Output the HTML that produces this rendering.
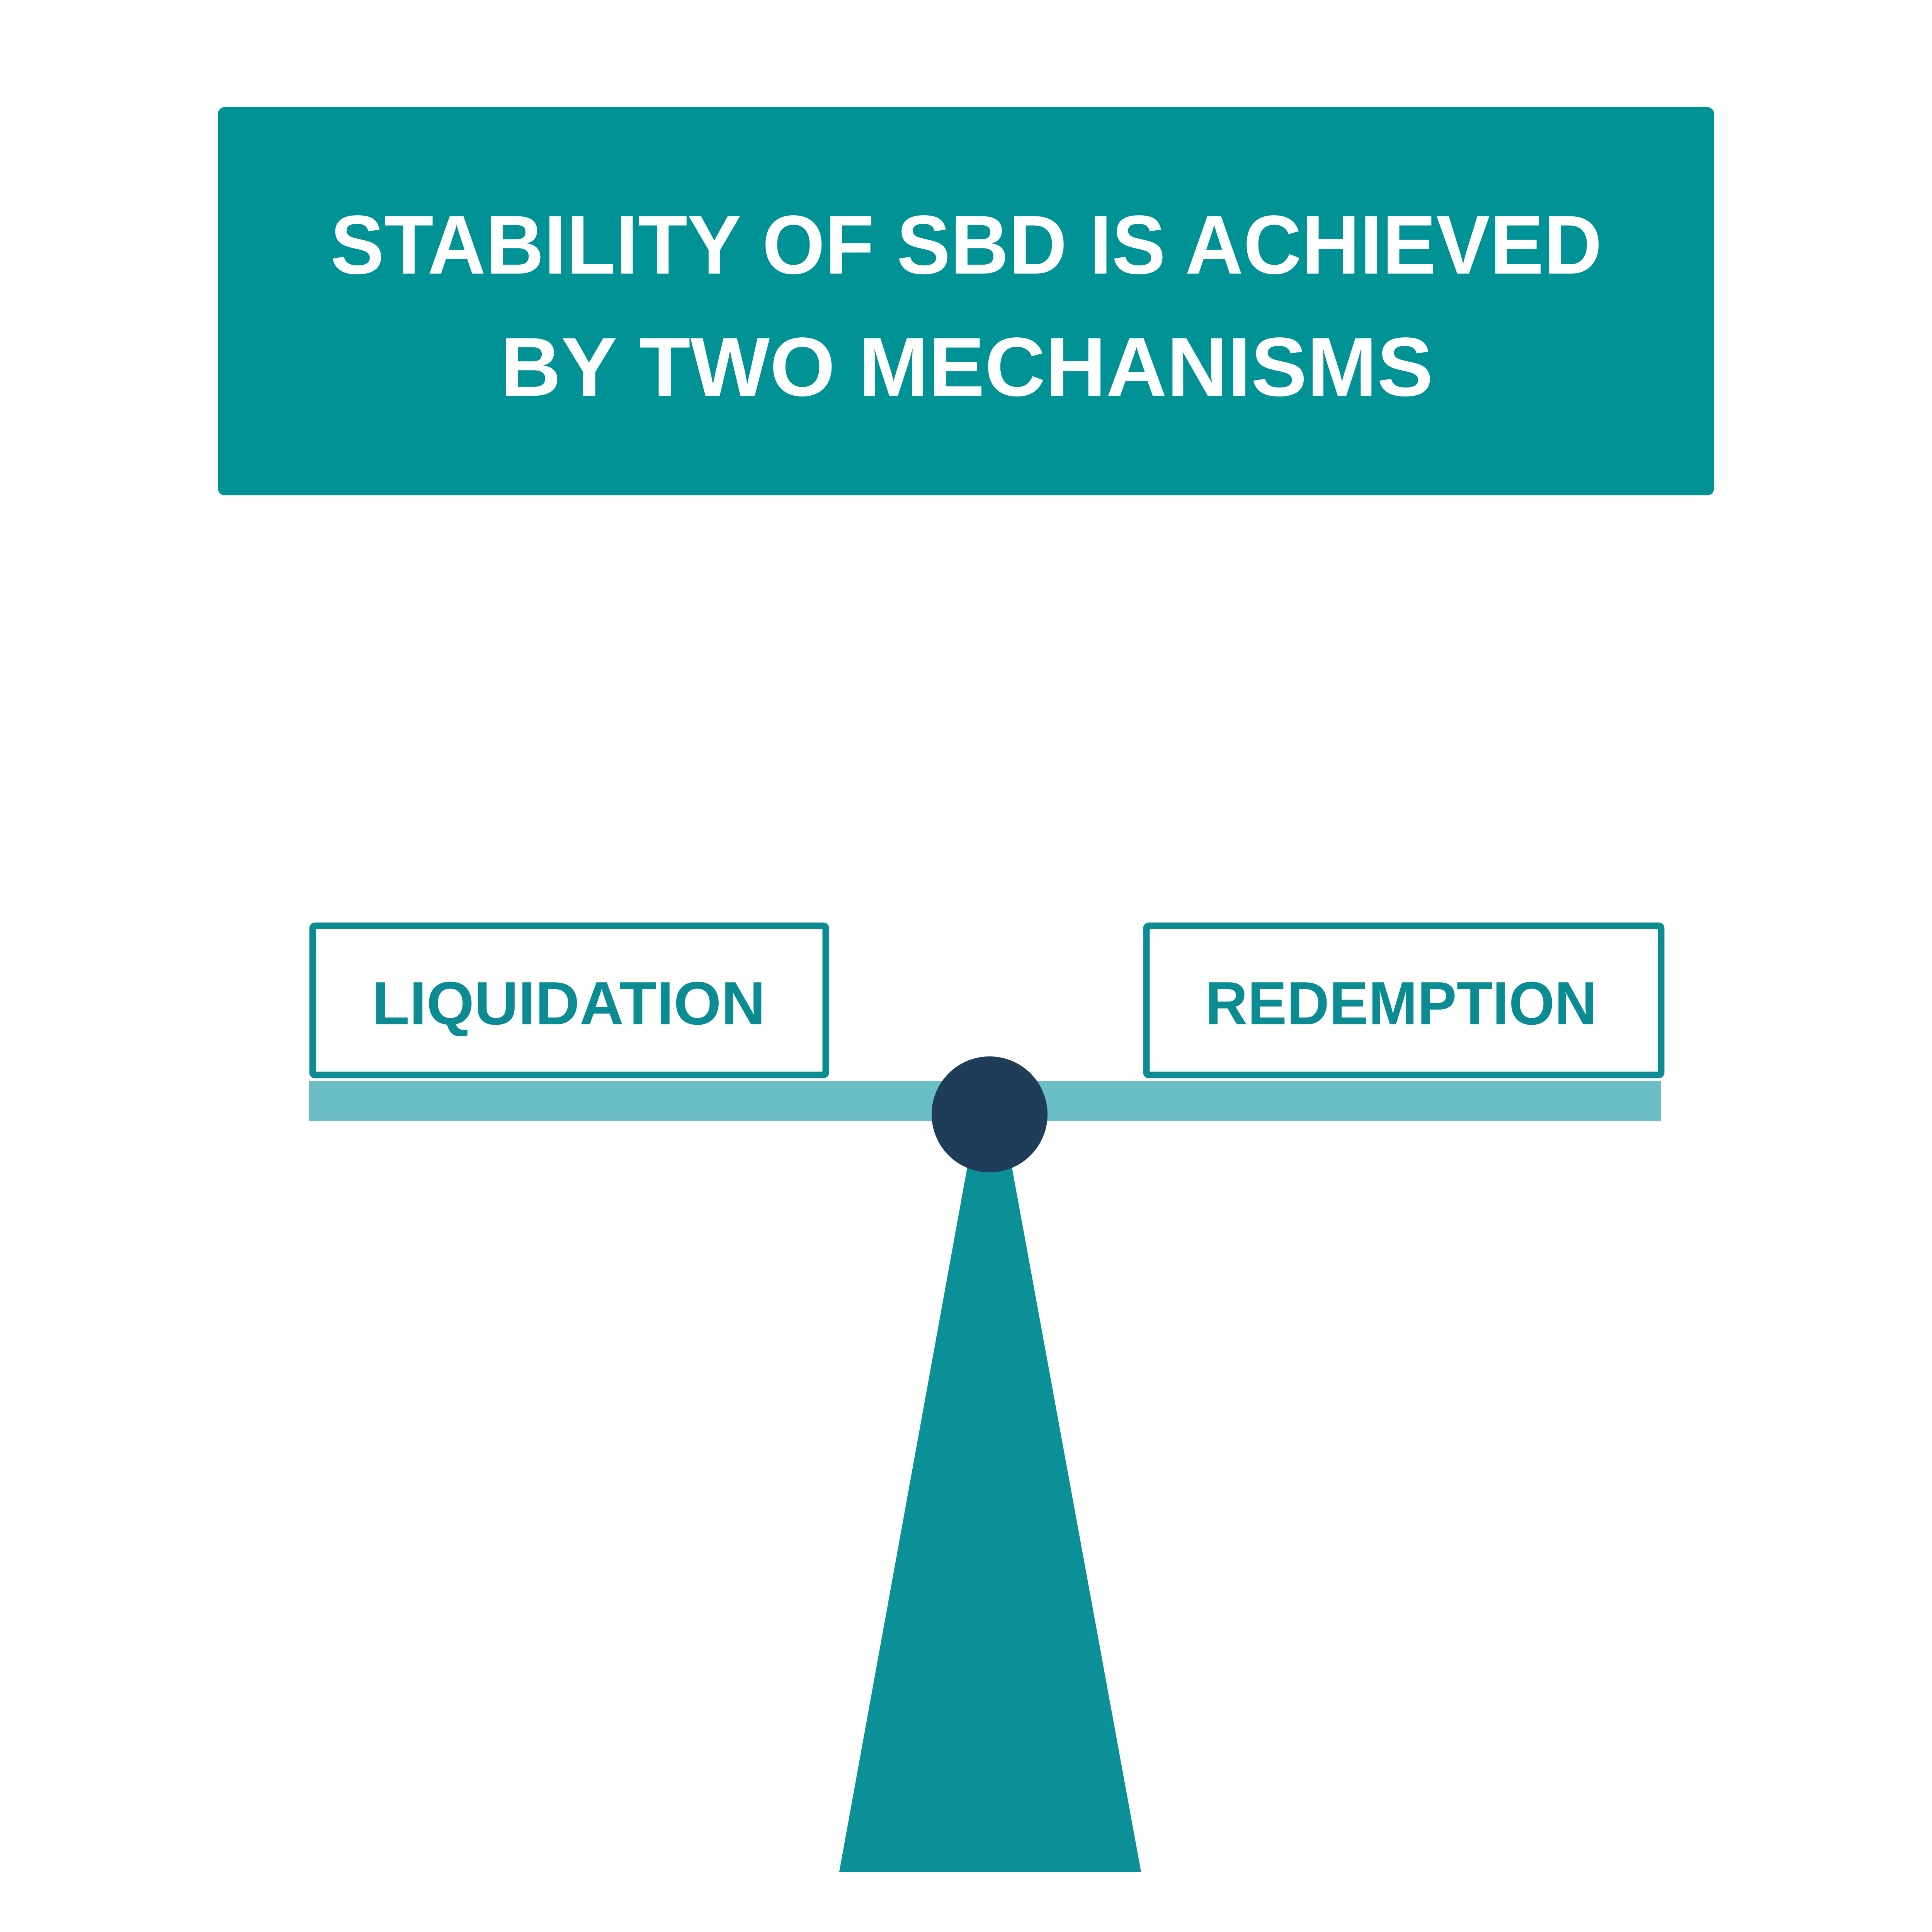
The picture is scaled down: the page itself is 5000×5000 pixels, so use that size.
<!DOCTYPE html>
<html>
<head>
<meta charset="utf-8">
<style>
  html,body{margin:0;padding:0;background:#ffffff;}
  svg{display:block;}
  text{font-family:"Liberation Sans", sans-serif;font-weight:bold;}
</style>
</head>
<body>
<svg width="5000" height="5000" viewBox="0 0 5000 5000" xmlns="http://www.w3.org/2000/svg">
  <rect x="0" y="0" width="5000" height="5000" fill="#ffffff"/>

  <g>
    <rect x="564" y="277" width="3872" height="1005" rx="18" fill="#009295"/>
    <text x="855" y="708" font-size="216" fill="#ffffff" textLength="3291" lengthAdjust="spacingAndGlyphs">STABILITY OF SBD IS ACHIEVED</text>
    <text x="1295" y="1024" font-size="216" fill="#ffffff" textLength="2414" lengthAdjust="spacingAndGlyphs">BY TWO MECHANISMS</text>
  </g>

  <polygon points="2507,3000 2615,3000 2953,4844 2172,4844" fill="#0a9096"/>

  <rect x="800" y="2797" width="3499" height="105" fill="#6bbec3"/>

  <g>
    <rect x="809" y="2396" width="1328" height="386" rx="6" fill="#ffffff" stroke="#0a8c92" stroke-width="17"/>
    <text x="963" y="2651" font-size="158" fill="#0a8c92" textLength="1018" lengthAdjust="spacingAndGlyphs">LIQUIDATION</text>
  </g>

  <g>
    <rect x="2967" y="2396" width="1332" height="386" rx="6" fill="#ffffff" stroke="#0a8c92" stroke-width="17"/>
    <text x="3119" y="2651" font-size="158" fill="#0a8c92" textLength="1014" lengthAdjust="spacingAndGlyphs">REDEMPTION</text>
  </g>

  <circle cx="2561" cy="2884" r="150" fill="#1f3c58"/>
</svg>
</body>
</html>
